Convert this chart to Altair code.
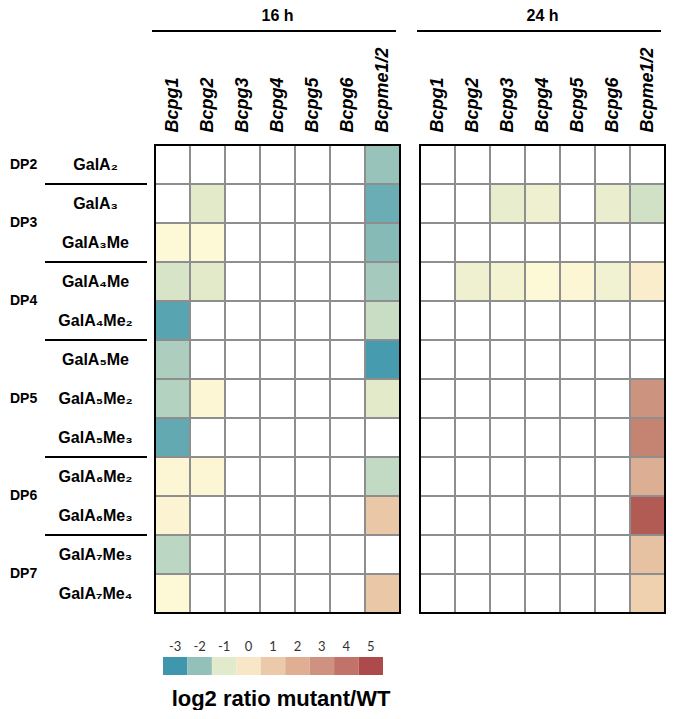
import altair as alt
import pandas as pd

FONT = "Liberation Sans"

rows = ["GalA₂", "GalA₃", "GalA₃Me", "GalA₄Me", "GalA₄Me₂", "GalA₅Me",
        "GalA₅Me₂", "GalA₅Me₃", "GalA₆Me₂", "GalA₆Me₃", "GalA₇Me₃", "GalA₇Me₄"]
genes = ["Bcpg1", "Bcpg2", "Bcpg3", "Bcpg4", "Bcpg5", "Bcpg6", "Bcpme1/2"]

dp_labels = ["DP2", "DP3", "DP4", "DP5", "DP6", "DP7"]
dp_anchor_rows = ["GalA₂", "GalA₃", "GalA₄Me", "GalA₅Me₂", "GalA₆Me₂", "GalA₇Me₃"]
dp_on_boundary = [False, True, True, False, True, True]
group_start_rows = ["GalA₃", "GalA₄Me", "GalA₅Me", "GalA₆Me₂", "GalA₇Me₃"]

N = None
# 16 h, log2 ratio mutant/WT per gene (rows in order of `rows`)
h16_bcpg1 = [N, N, 0.0, -1.1, -2.7, -1.7, -1.6, -2.6, 0.05, 0.1, -1.5, 0.0]
h16_bcpg2 = [N, -0.9, 0.0, -0.9, N, N, 0.05, N, 0.05, N, N, N]
h16_bcpg3 = [N] * 12
h16_bcpg4 = [N] * 12
h16_bcpg5 = [N] * 12
h16_bcpg6 = [N] * 12
h16_bcpme = [-2.0, -2.5, -2.2, -1.8, -1.3, -2.9, -0.9, N, -1.4, 1.1, N, 1.1]

# 24 h
h24_bcpg1 = [N] * 12
h24_bcpg2 = [N, N, N, -0.5, N, N, N, N, N, N, N, N]
h24_bcpg3 = [N, -0.7, N, -0.35, N, N, N, N, N, N, N, N]
h24_bcpg4 = [N, -0.5, N, 0.0, N, N, N, N, N, N, N, N]
h24_bcpg5 = [N, N, N, 0.05, N, N, N, N, N, N, N, N]
h24_bcpg6 = [N, -0.65, N, -0.4, N, N, N, N, N, N, N, N]
h24_bcpme = [N, -1.2, N, 0.25, N, N, 3.0, 3.5, 2.0, 4.6, 1.3, 0.85]

legend_values = [-3, -2, -1, 0, 1, 2, 3, 4, 5]
legend_title = "log2 ratio mutant/WT"

scale_stops = [-3, -2, -1, 0, 1, 2, 3, 4, 5]
cell_colors = ["#3e97ad", "#97c3ba", "#dfe8c9", "#fdf8d6", "#eccaa8",
               "#dcae94", "#cc937f", "#bd7264", "#ab4a4a"]
legend_colors = ["#3f97ae", "#93c0b9", "#e1eacb", "#f7e7c7", "#ecc9a9",
                 "#dfae93", "#cf9280", "#c1736a", "#ad4a4b"]

CELL_W = 35
ROW_H = 39
W = CELL_W * len(genes)
H = ROW_H * len(rows)
GRID = "#8e8e8e"

cell_scale = alt.Scale(domain=scale_stops, range=cell_colors, interpolate="rgb")
xscale = alt.Scale(domain=genes, paddingInner=0, paddingOuter=0)
yscale = alt.Scale(domain=rows, paddingInner=0, paddingOuter=0)

one = pd.DataFrame({"k": [0]})


def y_axis(left):
    if not left:
        return None
    return alt.Axis(orient="left", labelAlign="center", labelBaseline="middle",
                    labelPadding=60, labelFont=FONT, labelFontWeight="bold",
                    labelFontSize=16, labelColor="black", ticks=False, tickSize=0,
                    domain=False, title=None, grid=False, labelOverlap=False)


def panel(title, series, left):
    recs = []
    for g, vals in zip(genes, series):
        for r, v in zip(rows, vals):
            recs.append({"gene": g, "row": r, "v": v})
    df = pd.DataFrame(recs)
    xenc = alt.X("gene:N", scale=xscale,
                 axis=alt.Axis(orient="top", labelAngle=270, labelAlign="left",
                               labelBaseline="middle", labelFont=FONT,
                               labelFontStyle="italic", labelFontWeight="bold",
                               labelFontSize=18, labelColor="black", labelPadding=13,
                               ticks=False, tickSize=0, domain=False, title=None,
                               grid=False, labelOverlap=False))
    yenc = alt.Y("row:N", scale=yscale, axis=y_axis(left))
    base = alt.Chart(df).encode(x=xenc, y=yenc)
    blank = base.mark_rect(fill="white", stroke=GRID, strokeWidth=2)
    filled = base.transform_filter("isValid(datum.v)").mark_rect(
        stroke=GRID, strokeWidth=2).encode(
        color=alt.Color("v:Q", scale=cell_scale, legend=None))
    border = alt.Chart(one).mark_rect(filled=False, stroke="black", strokeWidth=2).encode(
        x=alt.value(0), x2=alt.value("width"), y=alt.value(0), y2=alt.value("height"))
    header = alt.Chart(one).mark_rule(color="black", strokeWidth=2).encode(
        x=alt.value(-3), x2=alt.value(W - 4), y=alt.value(-114))
    layers = [blank, filled, border, header]
    if left:
        seps = alt.Chart(pd.DataFrame({"row": group_start_rows})).mark_rule(
            color="black", strokeWidth=2).encode(
            x=alt.value(-110), x2=alt.value(-8),
            y=alt.Y("row:N", scale=yscale, axis=y_axis(True), bandPosition=0))
        dpdf = pd.DataFrame({"dp": dp_labels, "row": dp_anchor_rows,
                             "edge": dp_on_boundary})
        for flag, band in [(False, 0.5), (True, 1)]:
            sub = dpdf[dpdf["edge"] == flag][["dp", "row"]]
            layers.append(alt.Chart(sub).mark_text(
                align="left", baseline="middle", font=FONT, fontWeight="bold",
                fontSize=14, color="black").encode(
                x=alt.value(-145),
                y=alt.Y("row:N", scale=yscale, axis=y_axis(True), bandPosition=band),
                text="dp:N"))
        layers.append(seps)
    return alt.layer(*layers).properties(
        width=W, height=H,
        title=alt.TitleParams(title, frame="group", anchor="middle", fontSize=16,
                              font=FONT, fontWeight="bold", color="black", offset=6))


left = panel("16 h", [h16_bcpg1, h16_bcpg2, h16_bcpg3, h16_bcpg4, h16_bcpg5,
                      h16_bcpg6, h16_bcpme], True)
right = panel("24 h", [h24_bcpg1, h24_bcpg2, h24_bcpg3, h24_bcpg4, h24_bcpg5,
                       h24_bcpg6, h24_bcpme], False)

top = alt.hconcat(left, right, spacing=15)

legend_df = pd.DataFrame({"v": legend_values})
legend = alt.Chart(legend_df).mark_rect().encode(
    x=alt.X("v:O", scale=alt.Scale(domain=legend_values, range=[8, 228],
                                    paddingInner=0, paddingOuter=0),
            axis=alt.Axis(orient="top", labelAngle=0, labelFont="Lato", labelFontSize=13,
                          labelColor="#333333", labelPadding=4, ticks=False, tickSize=0,
                          domain=False, title=None, grid=False)),
    color=alt.Color("v:O", scale=alt.Scale(domain=legend_values, range=legend_colors),
                    legend=None),
).properties(width=236, height=18,
             title=alt.TitleParams(legend_title, orient="bottom", frame="group",
                                   anchor="middle", dx=8, fontSize=22, font=FONT,
                                   fontWeight="bold", color="black", offset=14))

chart = alt.vconcat(top, legend, spacing=26).resolve_scale(
    x="independent", y="independent", color="independent"
).properties(
    padding={"left": 2, "right": 2, "top": 0, "bottom": 0}
).configure(font=FONT).configure_view(stroke="transparent", strokeWidth=0)

chart.save("out.html", embed_options={"renderer": "svg", "actions": False})
